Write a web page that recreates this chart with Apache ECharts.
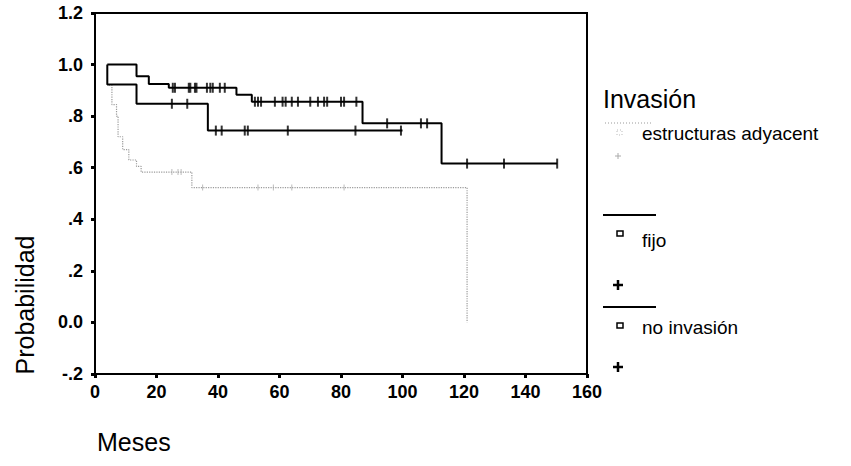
<!DOCTYPE html>
<html><head><meta charset="utf-8">
<script src="https://cdn.jsdelivr.net/npm/echarts@6/dist/echarts.min.js"></script>
<style>html,body{margin:0;padding:0;background:#fff}#c{width:851px;height:466px}</style>
</head><body><div id="c"></div>
<script>
// ---- data ----
const xTickValues = [0, 20, 40, 60, 80, 100, 120, 140, 160];
const yTickLabels = ['-.2', '0.0', '.2', '.4', '.6', '.8', '1.0', '1.2'];
const legendTitle = 'Invasión';
const groupNames = ['estructuras adyacent', 'fijo', 'no invasión'];

// Kaplan-Meier steps (time in months, survival after step)
const estTimes = [4.5, 5.5, 7, 7.5, 9, 11, 13.5, 15, 31.5, 121];
const estSurv  = [0.92, 0.845, 0.80, 0.72, 0.67, 0.63, 0.605, 0.583, 0.523, 0.0];
const estCensored = [25, 27, 28, 35, 53, 58, 64, 81];

const fijoTimes = [4, 4, 13.5, 36.7, 100];
const fijoSurv  = [1.0, 0.923, 0.848, 0.744, 0.744];
const fijoCensored = [25, 30, 39.3, 41.2, 48.7, 49.7, 62.7, 84.7, 99.5];

const noInvTimes = [4, 13.5, 17.5, 24, 46, 51, 87, 112.7, 150.3];
const noInvSurv  = [1.0, 0.955, 0.925, 0.91, 0.883, 0.856, 0.772, 0.616, 0.616];
const noInvCensored = [25.3, 26, 30.5, 31, 32.5, 33, 36.4, 37.5, 38.3, 40.6, 42.2,
  52, 53, 54, 58.5, 61, 62, 64, 66, 70, 72.5, 74.5, 75.5, 80, 81, 85,
  95, 106, 108, 121, 133, 150.3];

// ---- helpers ----
function pairs(ts, ss) { return ts.map((t, i) => [t, ss[i]]); }
function survAt(ts, ss, t) {
  let v = ss[0];
  for (let i = 0; i < ts.length; i++) { if (ts[i] <= t) v = ss[i]; }
  return v;
}
function censPts(ts, ss, cs) { return cs.map(c => [c, survAt(ts, ss, c)]); }

const FONT = '"Liberation Sans", Arial, sans-serif';
const chart = echarts.init(document.getElementById('c'), null, { renderer: 'svg' });

const plus = (x, y, s, color, w) => ({
  type: 'group', children: [
    { type: 'line', shape: { x1: x - s, y1: y, x2: x + s, y2: y }, style: { stroke: color, lineWidth: w } },
    { type: 'line', shape: { x1: x, y1: y - s, x2: x, y2: y + s }, style: { stroke: color, lineWidth: w } }
  ]
});
const txt = (text, x, y, size) => ({
  type: 'text', x: x, y: y,
  style: { text: text, font: size + 'px ' + FONT, fill: '#000', verticalAlign: 'middle', textVerticalAlign: 'middle' }
});

chart.setOption({
  animation: false,
  backgroundColor: '#fff',
  grid: { left: 95, top: 13, right: 264, bottom: 92, show: true, borderColor: '#000', borderWidth: 2 },
  xAxis: {
    type: 'value', min: 0, max: 160, interval: 20,
    axisLine: { show: true, onZero: false, lineStyle: { color: '#000', width: 2 } },
    axisTick: { show: true, length: 4, lineStyle: { color: '#000', width: 3 } },
    axisLabel: { color: '#000', fontSize: 18, fontWeight: 'bold', fontFamily: FONT, margin: 9,
      formatter: v => String(xTickValues[Math.round(v / 20)]) },
    splitLine: { show: false }
  },
  yAxis: {
    type: 'value', min: -0.2, max: 1.2, interval: 0.2,
    axisLine: { show: true, onZero: false, lineStyle: { color: '#000', width: 2 } },
    axisTick: { show: true, length: 4, lineStyle: { color: '#000', width: 3 } },
    axisLabel: { color: '#000', fontSize: 18, fontWeight: 'bold', fontFamily: FONT, margin: 12,
      formatter: v => yTickLabels[Math.round((v + 0.2) / 0.2)] },
    splitLine: { show: false }
  },
  series: [
    { name: groupNames[0], type: 'line', step: 'end', showSymbol: false, z: 1,
      data: pairs(estTimes, estSurv), lineStyle: { color: '#9a9a9a', width: 1.2, type: 'dotted' } },
    { name: groupNames[0] + ' cens', type: 'scatter', symbol: 'rect', symbolSize: [1, 6], z: 1,
      data: censPts(estTimes, estSurv, estCensored), itemStyle: { color: '#aaa' } },
    { name: groupNames[1], type: 'line', step: 'end', showSymbol: false, z: 3,
      data: pairs(fijoTimes, fijoSurv), lineStyle: { color: '#000', width: 2 } },
    { name: groupNames[1] + ' cens', type: 'scatter', symbol: 'rect', symbolSize: [2, 10], z: 4,
      data: censPts(fijoTimes, fijoSurv, fijoCensored), itemStyle: { color: '#000' } },
    { name: groupNames[2], type: 'line', step: 'end', showSymbol: false, z: 3,
      data: pairs(noInvTimes, noInvSurv), lineStyle: { color: '#000', width: 2 } },
    { name: groupNames[2] + ' cens', type: 'scatter', symbol: 'rect', symbolSize: [2, 10], z: 4,
      data: censPts(noInvTimes, noInvSurv, noInvCensored), itemStyle: { color: '#000' } }
  ],
  graphic: [
    { type: 'text', x: 25, y: 305, rotation: Math.PI / 2,
      style: { text: 'Probabilidad', font: '25px ' + FONT, fill: '#000', align: 'center', textAlign: 'center',
        verticalAlign: 'middle', textVerticalAlign: 'middle' } },
    txt('Meses', 97, 442, 25),
    txt(legendTitle, 603, 99, 25),
    { type: 'line', shape: { x1: 605, y1: 123, x2: 652, y2: 123 }, style: { stroke: '#9a9a9a', lineWidth: 1, lineDash: [1, 2] } },
    { type: 'rect', shape: { x: 617, y: 130, width: 5, height: 5 }, style: { fill: 'none', stroke: '#bbb', lineWidth: 1, lineDash: [1, 2] } },
    txt(groupNames[0], 642, 133, 19),
    plus(618, 156, 3, '#aaa', 1),
    { type: 'line', shape: { x1: 603, y1: 215, x2: 656, y2: 215 }, style: { stroke: '#000', lineWidth: 2 } },
    { type: 'rect', shape: { x: 617, y: 231, width: 6, height: 5 }, style: { fill: 'none', stroke: '#000', lineWidth: 1.5 } },
    txt(groupNames[1], 642, 240, 19),
    plus(618, 285, 5, '#000', 2.5),
    { type: 'line', shape: { x1: 603, y1: 307, x2: 656, y2: 307 }, style: { stroke: '#000', lineWidth: 2 } },
    { type: 'rect', shape: { x: 617, y: 323, width: 6, height: 5 }, style: { fill: 'none', stroke: '#000', lineWidth: 1.5 } },
    txt(groupNames[2], 642, 327, 19),
    plus(618, 367, 5, '#000', 2.5)
  ]
});
</script></body></html>
